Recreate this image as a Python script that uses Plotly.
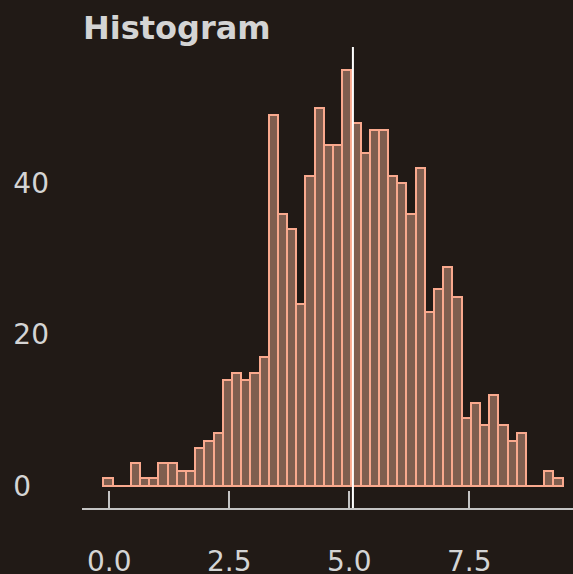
import plotly.graph_objects as go

# Histogram counts (50 equal-width bins) and the mean marker
bin_start = -0.125
bin_width = 0.1914
counts = [1, 0, 0, 3, 1, 1, 3, 3, 2, 2,
          5, 6, 7, 14, 15, 14, 15, 17, 49, 36,
          34, 24, 41, 50, 45, 45, 55, 48, 44, 47,
          47, 41, 40, 36, 42, 23, 26, 29, 25, 9,
          11, 8, 12, 8, 6, 7, 0, 0, 2, 1]
mean_value = 5.075

x_ticks = [0.0, 2.5, 5.0, 7.5]
y_ticks = [0, 20, 40]
y_ticktext = ["0\u2007", "20", "40"]

BG = "#211a16"
FILL = "#7f5e4f"
EDGE = "#f9a98e"
TEXT = "#d4d4d4"
AXIS = "#c4c4c4"
FONT = "DejaVu Sans"

centers = [bin_start + (i + 0.5) * bin_width for i in range(len(counts))]
bin_end = bin_start + len(counts) * bin_width

fig = go.Figure()
fig.add_trace(go.Bar(
    x=centers, y=counts, width=[bin_width] * len(counts),
    marker=dict(color=FILL, line=dict(color=EDGE, width=2)),
    hoverinfo="x+y", showlegend=False,
))

# baseline under the bins (visible where a bin is empty)
fig.add_shape(type="line", xref="x", yref="y",
              x0=bin_start, x1=bin_end, y0=0, y1=0,
              line=dict(color=EDGE, width=2), layer="below")

# mean marker
fig.add_shape(type="line", xref="x", yref="paper",
              x0=mean_value, x1=mean_value, y0=0, y1=1,
              line=dict(color="#ffffff", width=2))

fig.update_layout(
    width=573, height=574,
    margin=dict(l=82, r=0, t=47, b=66, autoexpand=False),
    paper_bgcolor=BG, plot_bgcolor=BG,
    bargap=0,
    font=dict(family=FONT, color=TEXT, size=28),
    title=dict(text="<b>Histogram</b>", font=dict(family=FONT, size=32, color=TEXT),
               xref="container", yref="container", x=83 / 573, xanchor="left",
               y=1 - 17 / 574, yanchor="top"),
    xaxis=dict(range=[-0.569, 9.66], tickvals=x_ticks, tickformat=".1f",
               showgrid=False, zeroline=False, automargin=False,
               showline=True, linecolor=AXIS, linewidth=2,
               ticks="inside", ticklen=17, tickwidth=2, tickcolor=AXIS,
               ticklabelstandoff=27, tickfont=dict(size=28, color=TEXT)),
    yaxis=dict(range=[-2.9, 58], tickvals=y_ticks, ticktext=y_ticktext,
               showgrid=False, zeroline=False, showline=False, ticks="",
               automargin=False,
               ticklabelstandoff=32, tickfont=dict(size=28, color=TEXT)),
)

fig.write_html("out.html")
